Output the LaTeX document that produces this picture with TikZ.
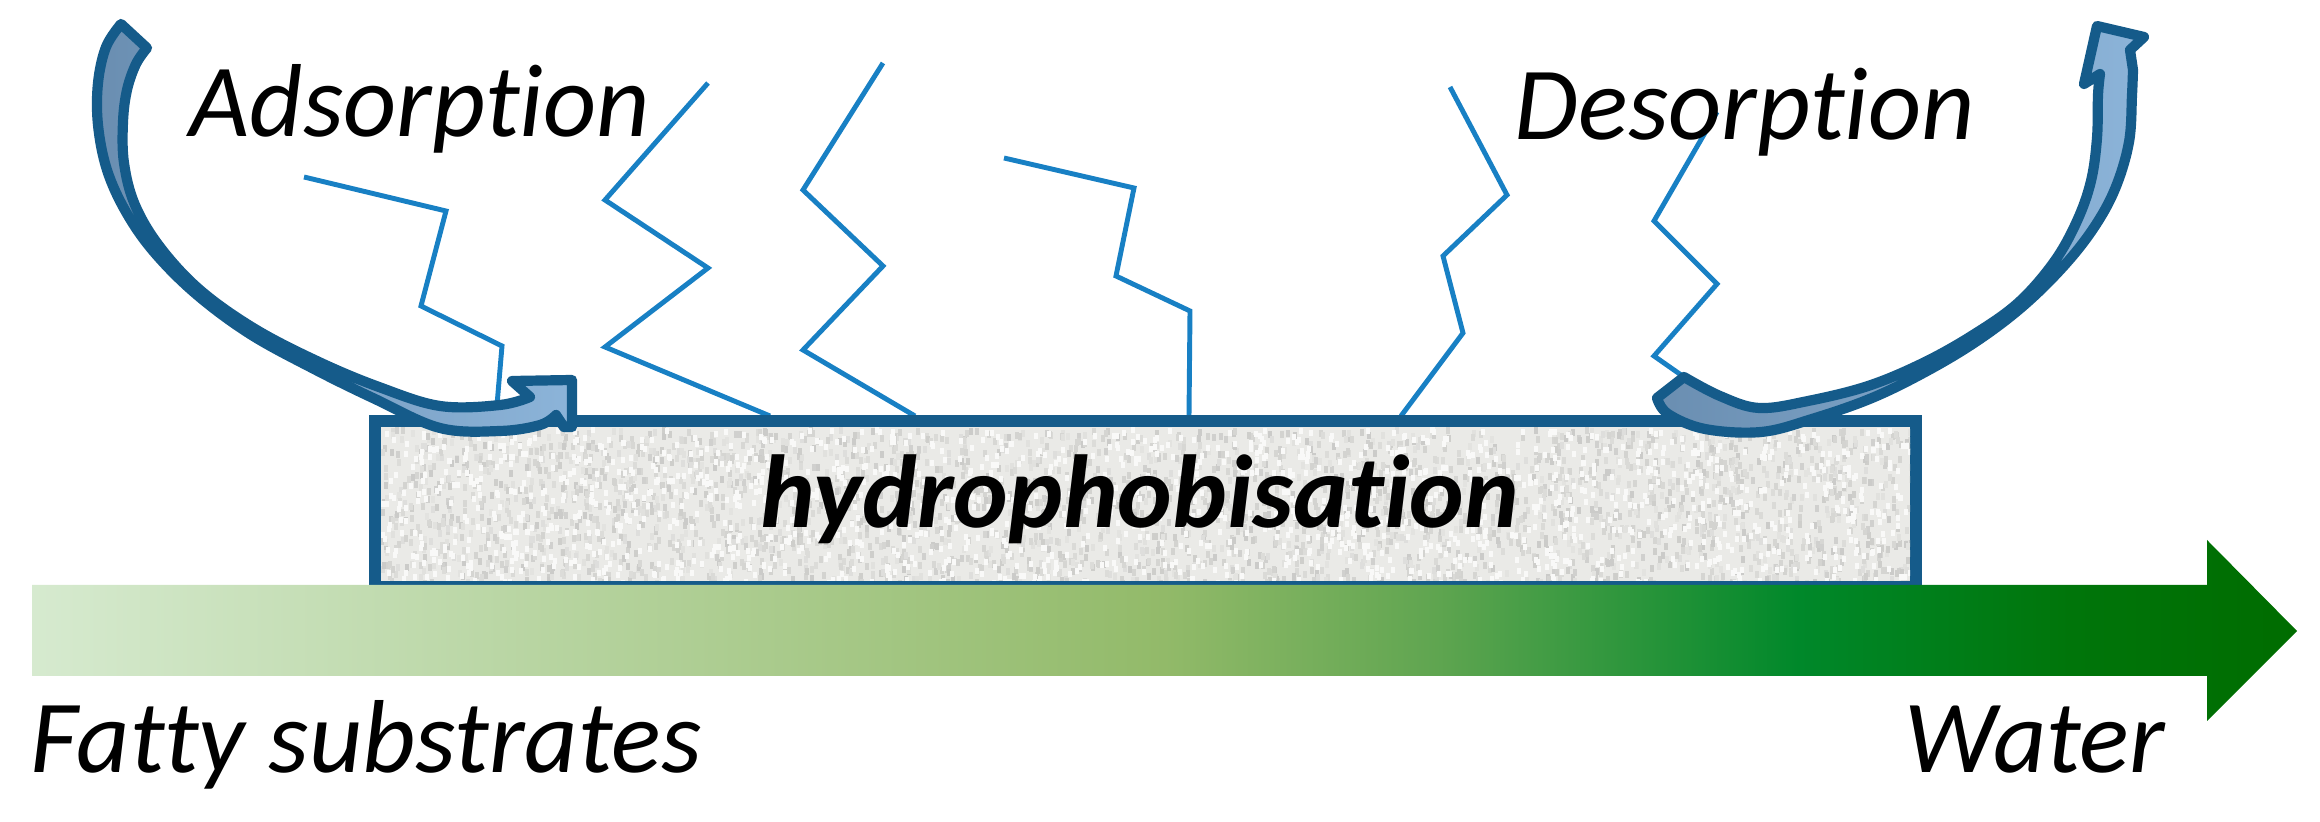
\documentclass[tikz,border=0pt]{standalone}
\usepackage{fontspec}
\setmainfont{Carlito}[Ligatures=NoCommon]
\usepackage{tikz}
\definecolor{edgeblue}{RGB}{21,91,138}
\definecolor{chainblue}{RGB}{24,128,196}
\definecolor{bendlight}{RGB}{140,180,217}
\definecolor{benddark}{RGB}{106,142,177}
\definecolor{granite}{RGB}{234,234,231}
\pgfdeclarehorizontalshading{watergrad}{100bp}{rgb(0bp)=(0.839,0.918,0.812); rgb(25bp)=(0.839,0.918,0.812); rgb(50bp)=(0.573,0.729,0.412); rgb(56bp)=(0.373,0.647,0.314); rgb(64bp)=(0,0.533,0.165); rgb(70bp)=(0,0.459,0.039); rgb(75bp)=(0,0.424,0); rgb(100bp)=(0,0.424,0)}

\begin{document}
\begin{tikzpicture}[x=0.01cm, y=-0.01cm,
    chainline/.style={draw=chainblue, line width=1.4pt, line join=miter},
    bendarrow/.style={draw=edgeblue, line width=2.9pt, line join=round, left color=benddark, right color=bendlight},
    labeltext/.style={font=\fontsize{29.5pt}{35pt}\selectfont\itshape, inner sep=0pt},
    surfacetext/.style={font=\fontsize{29.5pt}{35pt}\selectfont\bfseries\itshape, inner sep=0pt},
    surfacebox/.style={draw=edgeblue, line width=3.4pt, fill=granite, minimum width=15.41cm, minimum height=1.66cm, inner sep=0pt}]
    \useasboundingbox (0,0) rectangle (2320,822);

    % fatty chains
    \draw[chainline] (304,177) -- (446,211) -- (421,306) -- (502,346) -- (497,405);
    \draw[chainline] (708,83) -- (605,200) -- (708,268) -- (605,347) -- (770,416);
    \draw[chainline] (883,63) -- (803,190) -- (883,266) -- (803,350) -- (915,416);
    \draw[chainline] (1004,158) -- (1134,188) -- (1116,276) -- (1190,311) -- (1189,416);
    \draw[chainline] (1450,87) -- (1507,195) -- (1443,256) -- (1463,333) -- (1401,416);
    \draw[chainline] (1717,112) -- (1654,221) -- (1717,284) -- (1654,356) -- (1684,377);

    % surface
    \node[surfacebox] (surface) at (1145.5,504) {};
    \pgfmathsetseed{17}
    \begin{scope}
        \clip (381,427) rectangle (1910,581);
        \foreach \k in {1,...,3200}{
            \pgfmathsetmacro{\gx}{381+1529*rnd}
            \pgfmathsetmacro{\gy}{427+154*rnd}
            \pgfmathtruncatemacro{\gt}{3+11*rnd}
            \fill[black!\gt!granite] (\gx,\gy) rectangle ++(4,7);
        }
        \foreach \k in {1,...,1600}{
            \pgfmathsetmacro{\gx}{381+1529*rnd}
            \pgfmathsetmacro{\gy}{427+154*rnd}
            \fill[white!70!granite] (\gx,\gy) rectangle ++(4,6);
        }
    \end{scope}
    \node[surfacetext, anchor=base] (surfacetxt) at (1140,528) {hydrophobisation};

    % water gradient
    \shade[shading=watergrad] (32,585) -- (2207,585) -- (2207,540) -- (2297,631)
        -- (2207,721) -- (2207,676) -- (32,676) -- cycle;

    % adsorption arrow
    \path[bendarrow] (147,48)
        -- plot[smooth, tension=0.6] coordinates {(121,24) (106,47) (98,83) (98,125) (107,170) (126,212) (154,252) (196,294) (250,334) (314,369) (375,399) (440,428) (500,431) (540,425) (556,415)}
        -- (564,427) -- (572,427) -- (572,380) -- (512,381) -- (530,397)
        -- plot[smooth, tension=0.6] coordinates {(530,397) (500,405) (440,406) (379,387) (319,362) (255,329) (200,290) (160,247) (135,205) (124,163) (123,122) (127,90) (136,64) (147,48)}
        -- cycle;

    % desorption arrow
    \path[bendarrow] (1684,377)
        -- plot[smooth, tension=0.6] coordinates {(1657,398) (1668,414) (1705,429) (1761,432) (1812,419) (1872,398) (1927,371) (1977,341) (2022,307) (2062,268) (2093,229) (2115,189) (2129,142) (2132,95) (2133,70)}
        -- (2130,50) -- (2144,37) -- (2097,26) -- (2084,84) -- (2100,74)
        -- plot[smooth, tension=0.6] coordinates {(2100,74) (2098,95) (2097,138) (2091,181) (2077,221) (2054,262) (2018,303) (1973,335) (1923,363) (1868,386) (1808,401) (1759,408) (1720,396) (1684,377)}
        -- cycle;

    % labels
    \node[labeltext, anchor=base west] (adsorb) at (189,137) {Adsorption};
    \node[labeltext, anchor=base west] (desorb) at (1514,140) {Desorption};
    \node[labeltext, anchor=base west] (fatty) at (30,773) {Fatty substrates};
    \node[labeltext, anchor=base west] (water) at (1904,773) {Water};
\end{tikzpicture}
\end{document}
